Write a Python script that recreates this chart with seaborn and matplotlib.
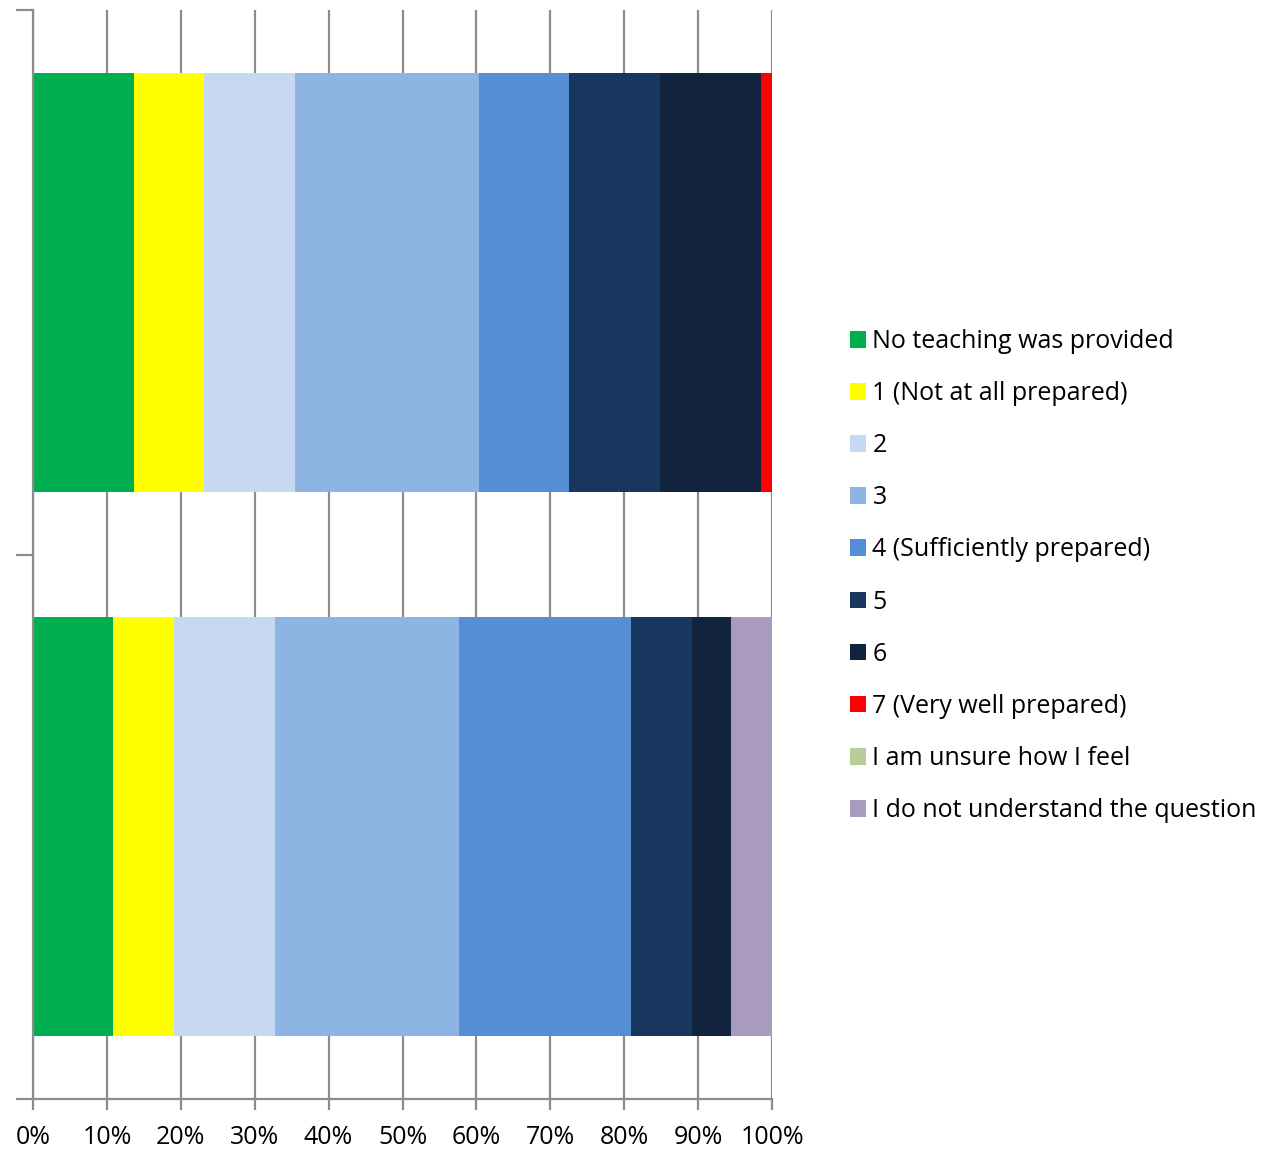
import numpy as np
import pandas as pd
import matplotlib
matplotlib.use("Agg")
import matplotlib.pyplot as plt
from matplotlib.patches import Patch
from matplotlib.ticker import PercentFormatter
import seaborn as sns

# categories (top bar first), values in percent
groups = ["Group A", "Group B"]
responses = ["No teaching was provided", "1 (Not at all prepared)", "2", "3",
             "4 (Sufficiently prepared)", "5", "6", "7 (Very well prepared)",
             "I am unsure how I feel", "I do not understand the question"]
group_a = [13.6, 9.6, 12.3, 24.8, 12.2, 12.4, 13.6, 1.5, 0.0, 0.0]
group_b = [10.8, 8.3, 13.7, 24.9, 23.2, 8.3, 5.3, 0.0, 0.0, 5.5]
colors = ["#00B050", "#FFFF00", "#C6D9F1", "#8EB4E3", "#558ED5",
          "#17375E", "#12233D", "#FF0000", "#B9CD96", "#A99BBD"]
ticks = [0, 10, 20, 30, 40, 50, 60, 70, 80, 90, 100]

sns.set_style("white")
plt.rcParams['font.family'] = ['Open Sans', 'DejaVu Sans']
plt.rcParams['text.color'] = 'black'
plt.rcParams['xtick.color'] = 'black'

# cumulative ends for the stack
cum_a = np.cumsum(group_a)
cum_b = np.cumsum(group_b)
df = pd.DataFrame({
    "group": np.repeat(groups, len(responses)),
    "response": responses * 2,
    "end": np.concatenate([cum_a, cum_b]),
})

fig = plt.figure(figsize=(12.77, 11.49), dpi=100)
ax = fig.add_axes([33 / 1277, 50 / 1149, (772 - 33) / 1277, 1089 / 1149])

grid_c = "#8C8C8C"
for t in ticks:
    ax.axvline(t, color=grid_c, lw=1.6, zorder=0)

# draw longest first so shorter segments sit on top
for i in range(len(responses) - 1, -1, -1):
    sub = df[df["response"] == responses[i]]
    sns.barplot(data=sub, x="end", y="group", order=groups, color=colors[i],
                orient="h", width=0.77, saturation=1, edgecolor="none",
                linewidth=0, ax=ax, zorder=2)

ax.set_xlim(0, 100)
ax.set_ylim(1.5, -0.5)
ax.set_xticks(ticks)
ax.xaxis.set_major_formatter(PercentFormatter(decimals=0))
ax.set_yticks([-0.5, 0.5, 1.5])
ax.set_yticklabels([])
ax.set_xlabel("")
ax.set_ylabel("")
ax.tick_params(axis="x", direction="out", length=8, width=1.6, color=grid_c,
               labelcolor="black", labelsize=18, pad=11, bottom=True)
ax.tick_params(axis="y", direction="out", length=12, width=1.6, color=grid_c, left=True)
for s in ["top", "right"]:
    ax.spines[s].set_visible(False)
for s in ["left", "bottom"]:
    ax.spines[s].set_color(grid_c)
    ax.spines[s].set_linewidth(1.6)
    ax.spines[s].set_zorder(3)

handles = [Patch(facecolor=c, edgecolor="none") for c in colors]
fig.legend(handles, responses, loc="upper left", bbox_to_anchor=(840 / 1277, 1 - 319 / 1149),
           frameon=False, fontsize=18, handlelength=0.65, handleheight=0.65,
           handletextpad=0.25, labelspacing=1.085, borderaxespad=0)

fig.savefig("out.png", dpi=100)
